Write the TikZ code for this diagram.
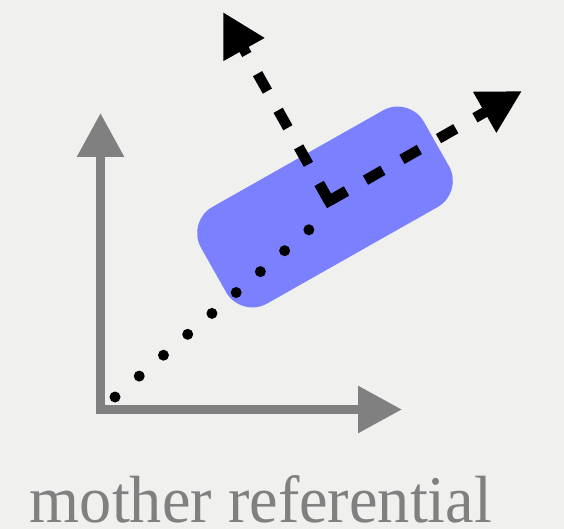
\documentclass[tikz,border=0pt]{standalone}
\usepackage{fontspec}
\setmainfont{Liberation Serif}
\usepackage{graphicx}
\usetikzlibrary{arrows.meta,calc}
\definecolor{bgc}{RGB}{240,240,238}
\definecolor{axisgray}{RGB}{128,128,128}
\definecolor{boxblue}{RGB}{122,128,254}
\tikzset{
  axisline/.style={draw=axisgray, line width=9pt, line join=miter,
    {Triangle[length=44pt,width=45pt]}-{Triangle[length=44pt,width=45pt]}},
  bodybox/.style={fill=boxblue, draw=none, rotate=29.5, minimum width=256pt,
    minimum height=111pt, rounded corners=30pt, inner sep=0pt},
  dotline/.style={draw=black, line width=11pt, line cap=round, dash pattern=on 0pt off 32pt},
  dasharrow/.style={draw=black, line width=10.5pt, dash pattern=on 20pt off 22pt,
    -{Triangle[length=43pt,width=44pt]}},
  cornerL/.style={draw=black, line width=10.5pt, line join=miter},
  caption/.style={text=axisgray, anchor=base, inner sep=0pt}
}
\begin{document}
\begin{tikzpicture}[x=1pt,y=-1pt]
\fill[bgc] (0,0) rectangle (564,529);
\useasboundingbox (0,0) rectangle (564,529);
% axes
\coordinate (ytip) at (100.5,113);
\coordinate (xtip) at (402,409.5);
\draw[axisline] (ytip) |- (xtip);
% body
\node[bodybox] (body) at (325,207) {};
% dotted line
\coordinate (d0) at (115,397);
\coordinate (d1) at (333,209);
\draw[dotline] (d0) -- (d1);
% local frame
\coordinate (c) at (329,201);
\coordinate (htip) at (522,91);
\coordinate (vtip) at (223,12);
\draw[dasharrow] (c) -- (htip);
\draw[dasharrow] (c) -- (vtip);
\draw[cornerL] ($(c)!20pt!(vtip)$) -- (c) -- ($(c)!20pt!(htip)$);
% caption
\node[caption] (cap) at (261,522) {\resizebox{462pt}{47pt}{mother referential}};
\end{tikzpicture}
\end{document}
